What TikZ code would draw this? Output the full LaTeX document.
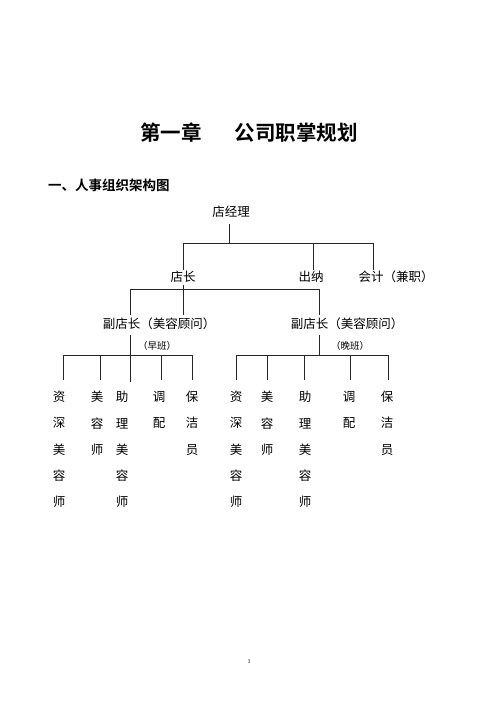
\documentclass[tikz,border=0pt]{standalone}
\usepackage{fontspec}
\setmainfont{Liberation Serif}
\newfontfamily\cjk{Noto Sans CJK SC}
\newfontfamily\cjkb{Noto Sans CJK SC}[BoldFont={* Bold}]
\begin{document}
\begin{tikzpicture}[x=1pt,y=-1pt,
  lbl/.style={inner sep=0pt,font=\cjk\fontsize{12.5}{13}\selectfont},
  sub/.style={inner sep=0pt,font=\cjk\fontsize{9.5}{10}\selectfont},
  col/.style={inner sep=0pt,font=\cjk\fontsize{12.5}{13}\selectfont,align=center,anchor=north},
  ln/.style={line width=0.7pt,black!85}]
\useasboundingbox[fill=white] (0,0) rectangle (500,708);
% headings
\node[inner sep=0pt,font=\cjkb\bfseries\fontsize{20.5}{22}\selectfont] (t1) at (171,133) {第一章};
\node[inner sep=0pt,font=\cjkb\bfseries\fontsize{20.5}{22}\selectfont] (t2) at (296,133) {公司职掌规划};
\node[inner sep=0pt,anchor=west,font=\cjkb\bfseries\fontsize{13.5}{14}\selectfont] (h1) at (48,185) {一、人事组织架构图};
% level nodes
\node[lbl] (mgr) at (231,212) {店经理};
\node[lbl] (dz) at (183,277) {店长};
\node[lbl] (cn) at (311,277) {出纳};
\node[lbl] (kj) at (396,277) {会计（兼职）};
\node[lbl] (fl) at (159,324) {副店长（美容顾问）};
\node[lbl] (fr) at (347,324) {副店长（美容顾问）};
\node[sub] (zb) at (157,346) {（早班）};
\node[sub] (wb) at (350,346) {（晚班）};
% coordinates
\coordinate (m0) at (229,224);
\coordinate (m1) at (229,243);
\coordinate (b1) at (183,243);
\coordinate (b2) at (313,243);
\coordinate (b3) at (373,243);
\coordinate (b1e) at (183,270);
\coordinate (b2e) at (313,270);
\coordinate (b3e) at (373,270);
\coordinate (d0) at (183,285);
\coordinate (d1) at (183,289);
\coordinate (d1e) at (183,315);
\coordinate (dl) at (130,289);
\coordinate (dr) at (319,289);
\coordinate (dle) at (130,315);
\coordinate (dre) at (319,315);
\coordinate (l0) at (130,335);
\coordinate (r0) at (319,335);
% lines top
\draw[ln] (m0) -- (m1);
\draw[ln] (b1) -- (b3);
\draw[ln] (b1) -- (b1e);
\draw[ln] (b2) -- (b2e);
\draw[ln] (b3) -- (b3e);
\draw[ln] (d0) -- (d1e);
\draw[ln] (dl) -- (dr);
\draw[ln] (dl) -- (dle);
\draw[ln] (dr) -- (dre);
% left group
\coordinate (lh1) at (63,355);
\coordinate (lh5) at (192,355);
\draw[ln] (lh1) -- (lh5);
\draw[ln] (l0) -- (130,382);
\foreach \x in {63,100,161,192} \draw[ln] (\x,355) -- (\x,380);
% right group
\coordinate (rh1) at (236,355);
\coordinate (rh5) at (388,355);
\draw[ln] (rh1) -- (rh5);
\draw[ln] (r0) -- (319,355);
\foreach \x in {236,267,304,350,388} \draw[ln] (\x,355) -- (\x,380);
% columns
\def\cl#1{\begin{tabular}{@{}c@{}}#1\end{tabular}}
\tikzset{colt/.style={col,font=\cjk\fontsize{12.5}{26.3}\selectfont}}
\node[colt] (c1) at (59,391) {资\\深\\美\\容\\师};
\node[colt] (c2) at (97,391) {美\\容\\师};
\node[colt] (c3) at (122,391) {助\\理\\美\\容\\师};
\node[colt] (c4) at (159,391) {调\\配};
\node[colt] (c5) at (192,391) {保\\洁\\员};
\node[colt] (c6) at (236,391) {资\\深\\美\\容\\师};
\node[colt] (c7) at (267,391) {美\\容\\师};
\node[colt] (c8) at (305,391) {助\\理\\美\\容\\师};
\node[colt] (c9) at (349,391) {调\\配};
\node[colt] (c10) at (387,391) {保\\洁\\员};
\node[inner sep=0pt,font=\fontsize{6}{7}\selectfont] (pg) at (249,662) {1};
\end{tikzpicture}
\end{document}
